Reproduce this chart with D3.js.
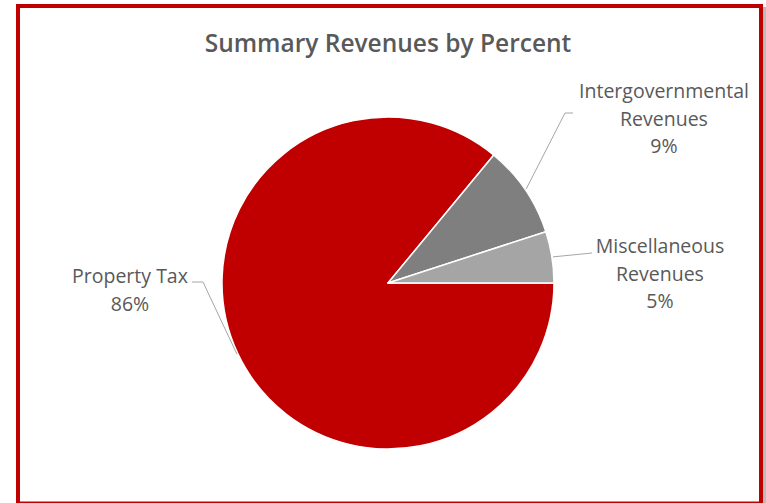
<!DOCTYPE html>
<html>
<head>
<meta charset="utf-8">
<script src="https://cdn.jsdelivr.net/npm/d3@7"></script>
<style>
  html, body { margin: 0; padding: 0; background: #ffffff; }
  svg { display: block; }
  text { font-family: "Open Sans", "Noto Sans", sans-serif; fill: #595959; }
</style>
</head>
<body>
<svg id="chart" width="766" height="503"></svg>
<script>
// Revenue categories and their share of the total (percent)
const categories = ["Property Tax", "Intergovernmental Revenues", "Miscellaneous Revenues"];
const percents = [86, 9, 5];
const labelLines = [["Property Tax", "86%"], ["Intergovernmental", "Revenues", "9%"], ["Miscellaneous", "Revenues", "5%"]];
const colors = ["#c00000", "#7f7f7f", "#a5a5a5"];
const title = "Summary Revenues by Percent";

const svg = d3.select("#chart");
const W = 766, H = 503;

// drop shadow along the right edge, then the red frame
svg.append("rect").attr("x", 763).attr("y", 7).attr("width", 3).attr("height", H - 7).attr("fill", "#bdbdbd");
svg.append("rect")
  .attr("x", 18).attr("y", 6).attr("width", 743).attr("height", 497.5)
  .attr("fill", "#ffffff").attr("stroke", "#c00000").attr("stroke-width", 4);

svg.append("text")
  .attr("x", 388).attr("y", 52)
  .attr("text-anchor", "middle")
  .attr("font-size", 24.5).attr("font-weight", 600)
  .text(title);

const cx = 388, cy = 283, r = 166;
const g = svg.append("g").attr("transform", `translate(${cx},${cy})`);

// first slice starts at 3 o'clock and runs clockwise
const start = Math.PI / 2;
const pie = d3.pie().sort(null).value(d => d).startAngle(start).endAngle(start + 2 * Math.PI);
const arcs = pie(percents);
const arc = d3.arc().innerRadius(0).outerRadius(r);

g.selectAll("path.slice")
  .data(arcs)
  .join("path")
  .attr("class", "slice")
  .attr("d", arc)
  .attr("fill", (d, i) => colors[i])
  .attr("stroke", "#ffffff")
  .attr("stroke-width", 1.5)
  .attr("stroke-linejoin", "round");

// label placement (page coordinates): text centre, first baseline, leader elbow
const labelPos = [
  { x: 130, y: 283, elbow: [[203, 282], [192, 282]] },
  { x: 664, y: 98,  elbow: [[565, 113], [573, 113]] },
  { x: 660, y: 253, elbow: [[592, 253]] }
];
const lineH = 27.5;

arcs.forEach((d, i) => {
  const a = (d.startAngle + d.endAngle) / 2;
  const p0 = [cx + (r + 1) * Math.sin(a), cy - (r + 1) * Math.cos(a)];
  const pts = [p0, ...labelPos[i].elbow];
  svg.append("path")
    .attr("d", d3.line()(pts))
    .attr("fill", "none")
    .attr("stroke", "#a6a6a6")
    .attr("stroke-width", 1);

  const t = svg.append("text")
    .attr("text-anchor", "middle")
    .attr("font-size", 19.5);
  labelLines[i].forEach((s, k) => {
    t.append("tspan")
      .attr("x", labelPos[i].x)
      .attr("y", labelPos[i].y + k * lineH)
      .text(s);
  });
});
</script>
</body>
</html>
